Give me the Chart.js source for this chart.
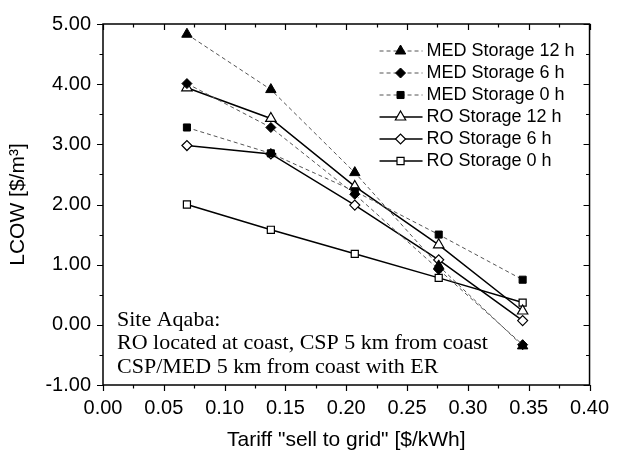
<!DOCTYPE html>
<html>
<head>
<meta charset="utf-8">
<script src="https://cdn.jsdelivr.net/npm/chart.js@4.4.1/dist/chart.umd.min.js"></script>
<style>
  html, body { margin: 0; padding: 0; background: #fff; }
  #wrap { width: 620px; height: 455px; }
</style>
</head>
<body>
<div id="wrap"><canvas id="lcowChart"></canvas></div>
<script>
/* global Chart */

// tariff "sell to grid" [$/kWh]
const tariffs = [0.069, 0.138, 0.207, 0.276, 0.345];

// LCOW [$/m3]
const medStorage12 = [4.83, 3.91, 2.53, 0.98, -0.35];
const medStorage6 = [4.01, 3.28, 2.17, 0.92, -0.33];
const medStorage0 = [3.28, 2.85, 2.22, 1.50, 0.75];
const roStorage12 = [3.94, 3.43, 2.30, 1.33, 0.23];
const roStorage6 = [2.98, 2.84, 1.99, 1.08, 0.07];
const roStorage0 = [2.00, 1.58, 1.18, 0.78, 0.37];

const seriesNames = [
  'MED Storage 12 h', 'MED Storage 6 h', 'MED Storage 0 h',
  'RO Storage 12 h', 'RO Storage 6 h', 'RO Storage 0 h',
];

const xTicks = [0.00, 0.05, 0.10, 0.15, 0.20, 0.25, 0.30, 0.35, 0.40];
const yTicks = [-1, 0, 1, 2, 3, 4, 5];

const siteNote = [
  'Site Aqaba:',
  'RO located at coast, CSP 5 km from coast',
  'CSP/MED 5 km from coast with ER',
];

const yTitle = 'LCOW [$/m³]';
const xTitle = 'Tariff "sell to grid" [$/kWh]';

function toPoints(values) {
  return values.map((v, i) => ({ x: tariffs[i], y: v }));
}

function medSeries(label, values, style) {
  return {
    label,
    data: toPoints(values),
    borderColor: '#555',
    borderWidth: 1,
    borderDash: [4, 3],
    pointStyle: style,
    pointRadius: style === 'triangle' ? 6 : 5,
    pointBackgroundColor: '#000',
    pointBorderColor: '#000',
    pointBorderWidth: 1,
    tension: 0,
  };
}

function roSeries(label, values, style) {
  return {
    label,
    data: toPoints(values),
    borderColor: '#000',
    borderWidth: 1.5,
    pointStyle: style,
    pointRadius: style === 'triangle' ? 6 : 5,
    pointBackgroundColor: '#fff',
    pointBorderColor: '#000',
    pointBorderWidth: 1.2,
    tension: 0,
  };
}

const sansFont = '"Liberation Sans", Arial, sans-serif';
const serifFont = '"Liberation Serif", "Times New Roman", serif';

// box round the plot, with major/minor ticks on all four sides
const frameTicks = {
  id: 'frameTicks',
  afterDraw(chart) {
    const { ctx, chartArea: a } = chart;
    const { x, y } = chart.scales;
    ctx.save();
    ctx.strokeStyle = '#000';
    ctx.lineWidth = 1.5;
    ctx.strokeRect(a.left, a.top, a.right - a.left, a.bottom - a.top);
    ctx.lineWidth = 1.2;
    ctx.beginPath();
    for (let i = 0; i < xTicks.length; i += 1) {
      const vals = [[xTicks[i], 6]];
      if (i < xTicks.length - 1) vals.push([(xTicks[i] + xTicks[i + 1]) / 2, 3.5]);
      vals.forEach(([v, len]) => {
        const px = Math.round(x.getPixelForValue(v)) + 0.5;
        ctx.moveTo(px, a.bottom);
        ctx.lineTo(px, a.bottom + len);
        ctx.moveTo(px, a.top);
        ctx.lineTo(px, a.top + len);
      });
    }
    for (let i = 0; i < yTicks.length; i += 1) {
      const vals = [[yTicks[i], 6]];
      if (i < yTicks.length - 1) vals.push([(yTicks[i] + yTicks[i + 1]) / 2, 3.5]);
      vals.forEach(([v, len]) => {
        const py = Math.round(y.getPixelForValue(v)) + 0.5;
        ctx.moveTo(a.left, py);
        ctx.lineTo(a.left - len, py);
        ctx.moveTo(a.right, py);
        ctx.lineTo(a.right - len, py);
      });
    }
    ctx.stroke();
    ctx.restore();
  },
};

function drawMarker(ctx, ds, px, py) {
  if (Chart.helpers && Chart.helpers.drawPoint) {
    ctx.fillStyle = ds.pointBackgroundColor;
    ctx.strokeStyle = ds.pointBorderColor;
    ctx.lineWidth = ds.pointBorderWidth;
    Chart.helpers.drawPoint(ctx, {
      pointStyle: ds.pointStyle, radius: ds.pointRadius, rotation: 0, borderWidth: ds.pointBorderWidth,
    }, px, py);
  }
}

// legend inside the plot, top right
const innerLegend = {
  id: 'innerLegend',
  afterDraw(chart) {
    const { ctx, chartArea: a } = chart;
    ctx.save();
    ctx.font = `18px ${sansFont}`;
    ctx.textBaseline = 'middle';
    chart.data.datasets.forEach((ds, i) => {
      const x0 = a.right - 210;
      const yy = a.top + 27 + i * 22;
      ctx.beginPath();
      ctx.strokeStyle = ds.borderColor;
      ctx.lineWidth = ds.borderWidth;
      ctx.setLineDash(ds.borderDash || []);
      ctx.moveTo(x0, yy);
      ctx.lineTo(x0 + 43, yy);
      ctx.stroke();
      ctx.setLineDash([]);
      drawMarker(ctx, ds, x0 + 21, yy);
      ctx.fillStyle = '#000';
      ctx.fillText(ds.label, x0 + 47, yy);
    });
    ctx.restore();
  },
};

// site note, bottom left of the plot
const siteText = {
  id: 'siteText',
  afterDraw(chart) {
    const { ctx, chartArea: a } = chart;
    ctx.save();
    ctx.fillStyle = '#000';
    ctx.font = `22px ${serifFont}`;
    ctx.textBaseline = 'middle';
    siteNote.forEach((line, i) => {
      ctx.fillText(line, a.left + 14, a.bottom - 65 + i * 23.5);
    });
    ctx.restore();
  },
};

const ctx = document.getElementById('lcowChart');
const lcowChart = new Chart(ctx, {
  type: 'line',
  data: {
    datasets: [
      medSeries(seriesNames[0], medStorage12, 'triangle'),
      medSeries(seriesNames[1], medStorage6, 'rectRot'),
      medSeries(seriesNames[2], medStorage0, 'rect'),
      roSeries(seriesNames[3], roStorage12, 'triangle'),
      roSeries(seriesNames[4], roStorage6, 'rectRot'),
      roSeries(seriesNames[5], roStorage0, 'rect'),
    ],
  },
  options: {
    responsive: true,
    maintainAspectRatio: false,
    animation: false,
    layout: {
      padding: { top: 22, right: 21, left: 0, bottom: 0 },
    },
    plugins: {
      legend: { display: false },
      tooltip: { enabled: false },
    },
    scales: {
      x: {
        type: 'linear',
        min: xTicks[0],
        max: xTicks[xTicks.length - 1],
        afterBuildTicks(scale) {
          scale.ticks = xTicks.map((v) => ({ value: v }));
        },
        afterFit(scale) {
          scale.height = 70;
        },
        grid: { display: false, drawTicks: false },
        border: { display: false },
        ticks: {
          padding: 11,
          color: '#000',
          font: { family: sansFont, size: 20 },
          callback: (v) => Number(v).toFixed(2),
        },
        title: {
          display: true,
          text: xTitle,
          color: '#000',
          font: { family: sansFont, size: 21 },
          padding: { top: 4, bottom: 2 },
        },
      },
      y: {
        type: 'linear',
        min: yTicks[0],
        max: yTicks[yTicks.length - 1],
        afterBuildTicks(scale) {
          scale.ticks = yTicks.map((v) => ({ value: v }));
        },
        afterFit(scale) {
          scale.width = 103;
        },
        grid: { display: false, drawTicks: false },
        border: { display: false },
        ticks: {
          padding: 12,
          color: '#000',
          font: { family: sansFont, size: 20 },
          callback: (v) => Number(v).toFixed(2),
        },
        title: {
          display: true,
          text: yTitle,
          color: '#000',
          font: { family: sansFont, size: 21 },
          padding: { top: 6, bottom: 0 },
        },
      },
    },
  },
  plugins: [frameTicks, innerLegend, siteText],
});
</script>
</body>
</html>
